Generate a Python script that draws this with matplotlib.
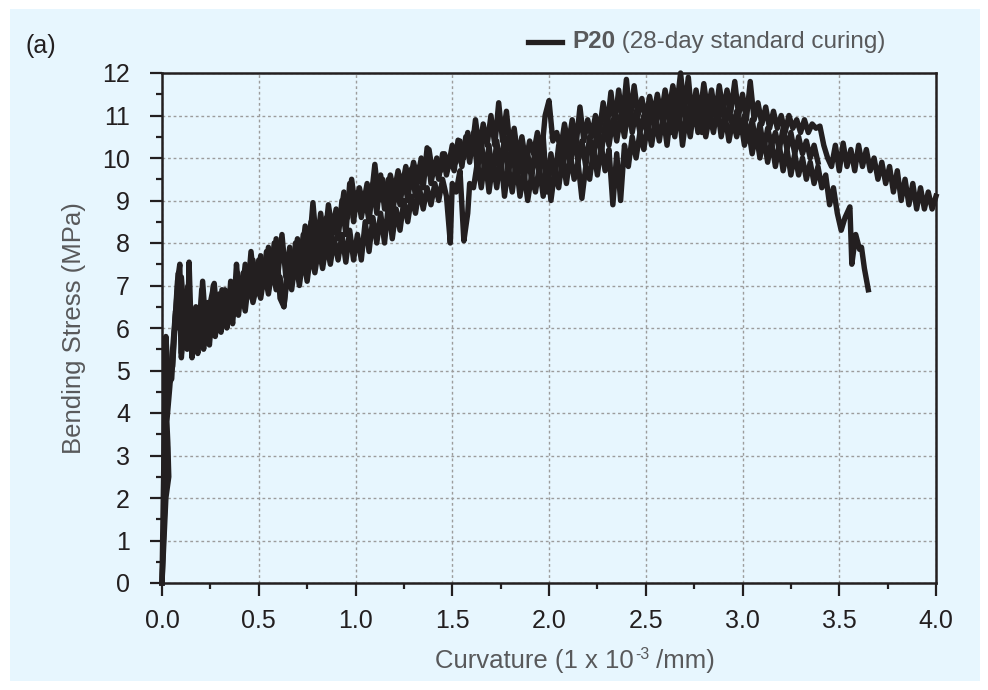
# bending stress vs curvature, P20 specimens (28-day standard curing)
import matplotlib
matplotlib.use("Agg")
import matplotlib.pyplot as plt
from matplotlib.patches import Rectangle
from matplotlib.lines import Line2D
from matplotlib.ticker import MultipleLocator

plt.rcParams['font.family'] = ['Liberation Sans', 'DejaVu Sans']

INK = '#231f20'
GREY = '#58595b'
BG = '#e7f6fe'

# specimen 1 (runs to 4.0)
s1_x = [0, 0.008, 0.018, 0.03, 0.028, 0.014, 0.022, 0.04, 0.055, 0.07, 0.085,
        0.100, 0.115, 0.130, 0.145, 0.160, 0.175, 0.190, 0.205, 0.220, 0.235,
        0.250, 0.265, 0.280, 0.295, 0.310, 0.325, 0.340, 0.355, 0.370, 0.385,
        0.400, 0.420, 0.440, 0.460, 0.480, 0.500, 0.520, 0.540, 0.560, 0.580,
        0.600, 0.620, 0.640, 0.660, 0.680, 0.700, 0.720, 0.740, 0.760, 0.780,
        0.800, 0.820, 0.840, 0.860, 0.880, 0.900, 0.920, 0.940, 0.960, 0.980,
        1.000, 1.020, 1.040, 1.060, 1.080, 1.100, 1.120, 1.140, 1.160, 1.180,
        1.200, 1.220, 1.240, 1.260, 1.280, 1.300, 1.320, 1.340, 1.360, 1.380,
        1.400, 1.420, 1.440, 1.460, 1.480, 1.500, 1.520, 1.540, 1.560, 1.580,
        1.600, 1.620, 1.640, 1.660, 1.680, 1.700, 1.720, 1.740, 1.760, 1.780,
        1.800, 1.820, 1.840, 1.860, 1.880, 1.900, 1.920, 1.940, 1.960, 1.980,
        2.000, 2.020, 2.040, 2.060, 2.080, 2.100, 2.120, 2.140, 2.160, 2.180,
        2.200, 2.220, 2.240, 2.260, 2.280, 2.300, 2.320, 2.340, 2.360, 2.380,
        2.400, 2.420, 2.440, 2.460, 2.480, 2.500, 2.520, 2.540, 2.560, 2.580,
        2.600, 2.620, 2.640, 2.660, 2.680, 2.700, 2.720, 2.740, 2.760, 2.780,
        2.800, 2.820, 2.840, 2.860, 2.880, 2.900, 2.920, 2.940, 2.960, 2.980,
        3.000, 3.020, 3.040, 3.060, 3.080, 3.100, 3.120, 3.140, 3.160, 3.180,
        3.200, 3.220, 3.240, 3.260, 3.280, 3.300, 3.320, 3.340, 3.360, 3.380,
        3.400, 3.420, 3.440, 3.460, 3.480, 3.500, 3.520, 3.540, 3.560, 3.580,
        3.600, 3.620, 3.640, 3.660, 3.680, 3.700, 3.720, 3.740, 3.760, 3.780,
        3.800, 3.820, 3.840, 3.860, 3.880, 3.900, 3.920, 3.940, 3.960, 3.980,
        4.000]
s1_y = [0, 1.1, 2.2, 2.6, 3.2, 3.8, 4.5, 4.9, 5.1, 6.3, 7.3,
        5.4, 6.8, 5.6, 6.6, 5.7, 6.5, 5.8, 6.9, 5.9, 6.6,
        6.0, 7.0, 6.1, 6.8, 6.2, 6.9, 6.2, 7.1, 6.4, 7.5,
        6.6, 7.3, 6.7, 7.8, 6.9, 7.6, 7.0, 7.8, 7.1, 8.0,
        7.3, 8.2, 7.2, 7.9, 7.4, 8.1, 7.6, 8.4, 7.8, 8.95,
        7.9, 8.7, 8.0, 8.9, 8.3, 8.8, 8.5, 9.2, 8.6, 9.5,
        8.8, 9.3, 8.9, 9.4, 9.0, 9.85, 9.0, 9.5, 9.1, 9.6,
        9.2, 9.7, 9.3, 9.8, 9.4, 9.9, 9.5, 10.0, 9.6, 10.2,
        9.6, 10.0, 9.7, 10.1, 9.8, 10.3, 9.9, 10.4, 10.0, 10.6,
        10.1, 10.9, 10.2, 10.8, 10.3, 11.0, 10.3, 11.3, 10.4, 11.1,
        10.2, 10.7, 10.0, 10.5, 9.9, 10.4, 10.1, 10.6, 10.0, 11.0,
        11.35, 10.4, 10.6, 10.2, 10.8, 10.3, 10.9, 10.3, 11.2, 10.4,
        10.9, 10.5, 11.0, 10.6, 11.3, 10.7, 11.55, 10.8, 11.6, 10.9,
        11.85, 10.9, 11.7, 11.0, 11.4, 10.9, 11.45, 11.0, 11.5, 11.0,
        11.6, 11.1, 11.7, 11.2, 12.0, 11.1, 11.9, 10.9, 11.6, 11.0,
        11.75, 11.1, 11.6, 11.0, 11.7, 11.1, 11.6, 11.1, 11.8, 11.0,
        11.5, 10.9, 11.8, 10.9, 11.3, 10.8, 11.2, 10.7, 11.1, 10.7,
        11.0, 10.6, 11.0, 10.7, 10.9, 10.6, 10.9, 10.6, 10.8, 10.7,
        10.75, 10.3, 10.0, 9.8, 10.3, 9.7, 10.35, 9.8, 10.2, 9.7,
        10.3, 9.8, 10.2, 9.7, 10.0, 9.5, 9.9, 9.4, 9.8, 9.2,
        9.7, 9.0, 9.5, 8.9, 9.4, 8.8, 9.3, 8.8, 9.2, 8.8,
        9.1]

# specimen 2 (fails at 3.65)
s2_x = [0, 0.005, 0.010, 0.015, 0.020, 0.035, 0.050, 0.065, 0.080, 0.092,
        0.100, 0.115, 0.130, 0.140, 0.155, 0.170, 0.185, 0.200, 0.215, 0.230,
        0.245, 0.260, 0.275, 0.290, 0.305, 0.320, 0.335, 0.350, 0.365, 0.380,
        0.395, 0.410, 0.430, 0.450, 0.470, 0.490, 0.510, 0.530, 0.550, 0.570,
        0.590, 0.610, 0.630, 0.650, 0.670, 0.690, 0.710, 0.730, 0.750, 0.770,
        0.790, 0.810, 0.830, 0.850, 0.870, 0.890, 0.910, 0.930, 0.950, 0.970,
        0.990, 1.010, 1.030, 1.050, 1.070, 1.090, 1.110, 1.130, 1.150, 1.170,
        1.190, 1.210, 1.230, 1.250, 1.270, 1.290, 1.310, 1.330, 1.350, 1.370,
        1.390, 1.410, 1.430, 1.450, 1.470, 1.490, 1.500, 1.520, 1.540, 1.560,
        1.580, 1.590, 1.610, 1.630, 1.650, 1.670, 1.690, 1.710, 1.730, 1.750,
        1.770, 1.790, 1.810, 1.830, 1.850, 1.870, 1.890, 1.910, 1.930, 1.950,
        1.970, 1.990, 2.010, 2.030, 2.050, 2.070, 2.090, 2.110, 2.130, 2.150,
        2.170, 2.190, 2.210, 2.230, 2.250, 2.270, 2.290, 2.310, 2.330, 2.350,
        2.370, 2.390, 2.410, 2.430, 2.450, 2.470, 2.490, 2.510, 2.530, 2.550,
        2.570, 2.590, 2.610, 2.630, 2.650, 2.670, 2.690, 2.710, 2.730, 2.750,
        2.770, 2.790, 2.810, 2.830, 2.850, 2.870, 2.890, 2.910, 2.930, 2.950,
        2.970, 2.990, 3.010, 3.030, 3.050, 3.070, 3.090, 3.110, 3.130, 3.150,
        3.170, 3.190, 3.210, 3.230, 3.250, 3.270, 3.290, 3.310, 3.330, 3.350,
        3.370, 3.390, 3.410, 3.430, 3.450, 3.470, 3.490, 3.510, 3.530, 3.555,
        3.565, 3.585, 3.605, 3.615, 3.630, 3.650]
s2_y = [0, 1.5, 3.0, 4.5, 5.8, 4.7, 4.8, 6.0, 7.1, 7.5,
        5.3, 6.2, 5.5, 7.55, 5.3, 6.0, 5.4, 6.3, 5.5, 6.1,
        5.6, 6.4, 5.8, 6.3, 5.9, 6.7, 6.0, 6.6, 6.1, 7.0,
        6.3, 6.9, 6.4, 7.2, 6.6, 7.0, 6.7, 7.3, 6.8, 7.4,
        6.9, 7.2, 6.5, 7.3, 6.9, 7.6, 7.0, 7.7, 7.1, 7.8,
        7.3, 7.9, 7.4, 8.0, 7.5, 8.1, 7.6, 8.2, 7.55, 8.3,
        7.6, 8.2, 7.6, 8.5, 7.8, 8.6, 8.0, 8.7, 8.0, 8.9,
        8.1, 8.8, 8.3, 9.0, 8.5, 9.1, 8.7, 9.3, 8.8, 9.3,
        8.9, 9.4, 9.0, 9.5, 9.1, 8.0, 9.4, 9.2, 9.7, 8.05,
        8.7, 9.4, 9.3, 9.9, 9.3, 10.0, 9.2, 9.9, 9.3, 10.1,
        9.1, 9.8, 9.2, 9.9, 9.1, 9.7, 9.0, 9.6, 9.2, 9.8,
        9.1, 9.9, 9.0, 9.7, 9.3, 10.0, 9.4, 10.1, 9.5, 9.9,
        9.05, 9.8, 9.5, 10.2, 9.6, 10.3, 9.7, 10.2, 8.9, 10.1,
        9.0, 10.3, 9.8, 10.5, 10.0, 10.6, 10.2, 10.8, 10.3, 10.9,
        10.4, 11.0, 10.3, 11.1, 10.5, 11.2, 10.3, 11.0, 10.5, 11.2,
        10.6, 11.1, 10.5, 11.0, 10.6, 11.2, 10.5, 11.0, 10.4, 10.9,
        10.5, 10.9, 10.3, 10.7, 10.1, 10.6, 10.0, 10.5, 9.9, 10.4,
        9.8, 10.3, 9.7, 10.2, 9.6, 10.1, 9.6, 10.0, 9.5, 9.9,
        9.4, 9.8, 9.3, 9.6, 8.9, 9.3, 8.7, 8.3, 8.6, 8.85,
        7.5, 8.2, 7.85, 7.9, 7.4, 6.9]

# specimen 3 (middle band)
s3_x = [0, 0.010, 0.020, 0.035, 0.030, 0.025, 0.040, 0.055, 0.070, 0.085,
        0.100, 0.120, 0.135, 0.150, 0.170, 0.190, 0.210, 0.230, 0.250, 0.270,
        0.290, 0.310, 0.330, 0.350, 0.370, 0.390, 0.410, 0.430, 0.450, 0.470,
        0.490, 0.510, 0.530, 0.550, 0.570, 0.590, 0.610, 0.630, 0.650, 0.670,
        0.690, 0.710, 0.730, 0.750, 0.770, 0.790, 0.810, 0.830, 0.850, 0.870,
        0.890, 0.910, 0.930, 0.950, 0.970, 0.990, 1.010, 1.030, 1.050, 1.070,
        1.090, 1.110, 1.130, 1.150, 1.170, 1.190, 1.210, 1.230, 1.250, 1.270,
        1.290, 1.310, 1.330, 1.350, 1.370, 1.390, 1.410, 1.430, 1.450, 1.470,
        1.490, 1.510, 1.530, 1.550, 1.570, 1.590, 1.610, 1.630, 1.650, 1.670,
        1.690, 1.710, 1.730, 1.750, 1.770, 1.790, 1.810, 1.830, 1.850, 1.870,
        1.890, 1.910, 1.930, 1.950, 1.970, 1.990, 2.010, 2.030, 2.050, 2.070,
        2.090, 2.110, 2.130, 2.150, 2.170, 2.190, 2.210, 2.230, 2.250, 2.270,
        2.290, 2.310, 2.330, 2.350, 2.370, 2.390, 2.410, 2.430, 2.450, 2.470,
        2.490, 2.510, 2.530, 2.550, 2.570, 2.590, 2.610, 2.630, 2.650, 2.670,
        2.690, 2.710, 2.730, 2.750, 2.770, 2.790, 2.810, 2.830, 2.850, 2.870,
        2.890, 2.910, 2.930, 2.950, 2.970, 2.990, 3.010, 3.030, 3.050, 3.070,
        3.090, 3.110, 3.130, 3.150, 3.170, 3.190, 3.210, 3.230, 3.250, 3.270,
        3.290, 3.310, 3.330, 3.350, 3.370, 3.390]
s3_y = [0, 1.0, 2.0, 2.5, 3.3, 3.8, 4.6, 5.5, 6.4, 6.0,
        7.2, 6.0, 7.0, 5.8, 6.4, 5.6, 7.1, 5.8, 6.6, 7.05,
        6.0, 6.9, 6.2, 6.8, 6.3, 7.3, 6.6, 7.5, 6.8, 7.6,
        6.9, 7.7, 7.0, 7.9, 7.1, 8.1, 6.7, 6.5, 7.5, 7.1,
        8.0, 7.3, 8.2, 7.5, 8.5, 7.6, 8.4, 7.7, 8.6, 7.9,
        8.6, 8.1, 9.0, 8.2, 9.4, 8.5, 9.2, 8.6, 9.1, 8.5,
        9.4, 8.7, 9.6, 8.8, 9.5, 8.6, 9.4, 8.9, 9.6, 9.0,
        9.75, 9.1, 9.8, 9.3, 10.24, 9.4, 9.9, 9.5, 10.1, 9.6,
        10.0, 9.7, 10.42, 9.8, 10.5, 9.9, 10.6, 9.7, 10.4, 9.6,
        10.3, 9.5, 10.4, 9.7, 10.5, 9.6, 10.3, 9.5, 10.2, 9.4,
        10.1, 9.5, 10.3, 9.6, 10.5, 9.2, 10.1, 9.5, 10.3, 9.7,
        10.5, 9.8, 10.6, 9.9, 10.4, 9.8, 10.5, 10.0, 10.7, 10.1,
        10.8, 10.3, 10.9, 10.4, 11.0, 10.5, 11.2, 10.6, 11.1, 10.6,
        11.0, 10.5, 11.2, 10.7, 11.3, 10.8, 11.4, 10.6, 11.3, 10.8,
        11.5, 10.7, 11.3, 10.8, 11.2, 10.6, 11.3, 10.8, 11.4, 10.9,
        11.3, 10.8, 11.2, 10.7, 11.1, 10.6, 11.0, 10.4, 10.9, 10.3,
        10.8, 10.2, 10.7, 10.3, 10.6, 10.2, 10.7, 10.2, 10.6, 10.1,
        10.5, 10.1, 10.4, 10.0, 10.3, 9.9]

x_ticks = [0.0, 0.5, 1.0, 1.5, 2.0, 2.5, 3.0, 3.5, 4.0]
y_ticks = list(range(0, 13))

fig = plt.figure(figsize=(9.88, 6.9), dpi=100)
# light blue panel behind everything, with a thin white margin
fig.add_artist(Rectangle((10 / 988, 9 / 690), 970 / 988, 672 / 690,
                         transform=fig.transFigure, facecolor=BG,
                         edgecolor='none', zorder=-10))
ax = fig.add_axes([162 / 988, 107 / 690, 774 / 988, 510 / 690])
ax.set_facecolor(BG)

for xs, ys in [(s3_x, s3_y), (s2_x, s2_y), (s1_x, s1_y)]:
    ax.plot(xs, ys, color=INK, lw=3.9, solid_joinstyle='round', clip_on=False, zorder=3)

ax.set_xlim(0, 4)
ax.set_ylim(0, 12)
ax.set_xticks(x_ticks)
ax.set_xticklabels([f"{v:.1f}" for v in x_ticks])
ax.set_yticks(y_ticks)
ax.xaxis.set_minor_locator(MultipleLocator(0.25))
ax.yaxis.set_minor_locator(MultipleLocator(0.5))
ax.grid(True, which='major', color='#9c9c9c', linestyle=(0, (2, 2)), lw=1.0)
ax.set_axisbelow(True)

for sp in ax.spines.values():
    sp.set_color(INK)
    sp.set_linewidth(1.8)
ax.tick_params(which='major', direction='out', length=9, width=1.6, color=INK,
               labelsize=18, labelcolor=INK)
ax.tick_params(axis='x', which='major', pad=10)
ax.tick_params(axis='y', which='major', pad=14)
ax.tick_params(which='minor', direction='out', length=4.5, width=1.6, color=INK)

ax.set_ylabel('Bending Stress (MPa)', fontsize=18.5, color=GREY, labelpad=12)

# x label built in three pieces so the exponent keeps a plain hyphen
xl = fig.text(435 / 988, 22 / 690, 'Curvature (1 x 10', fontsize=18.5,
              color=GREY, va='baseline', ha='left')
sup = ax.annotate('-3', xy=(1, 0), xycoords=xl, xytext=(1, 10),
                  textcoords='offset points', fontsize=11.5, color=GREY,
                  va='baseline', ha='left', annotation_clip=False)
ax.annotate(' /mm)', xy=(1, 0), xycoords=(sup, xl),
            fontsize=18.5, color=GREY, va='bottom', ha='left',
            annotation_clip=False)

fig.text(25 / 988, 1 - 46 / 690, '(a)', fontsize=18, color=INK, va='center')

# legend drawn by hand: bold specimen name followed by regular note
fig.add_artist(Line2D([528 / 988, 562 / 988], [1 - 42 / 690, 1 - 42 / 690],
                      transform=fig.transFigure, color=INK, lw=3.8))
t1 = fig.text(572 / 988, 1 - 42 / 690, 'P20', fontsize=17.5, fontweight='bold',
              color=GREY, va='center')
ax.annotate(' (28-day standard curing)', xy=(1, 0.5), xycoords=t1,
            fontsize=17.5, color=GREY, va='center', ha='left',
            annotation_clip=False)

fig.savefig('out.png', dpi=100)
